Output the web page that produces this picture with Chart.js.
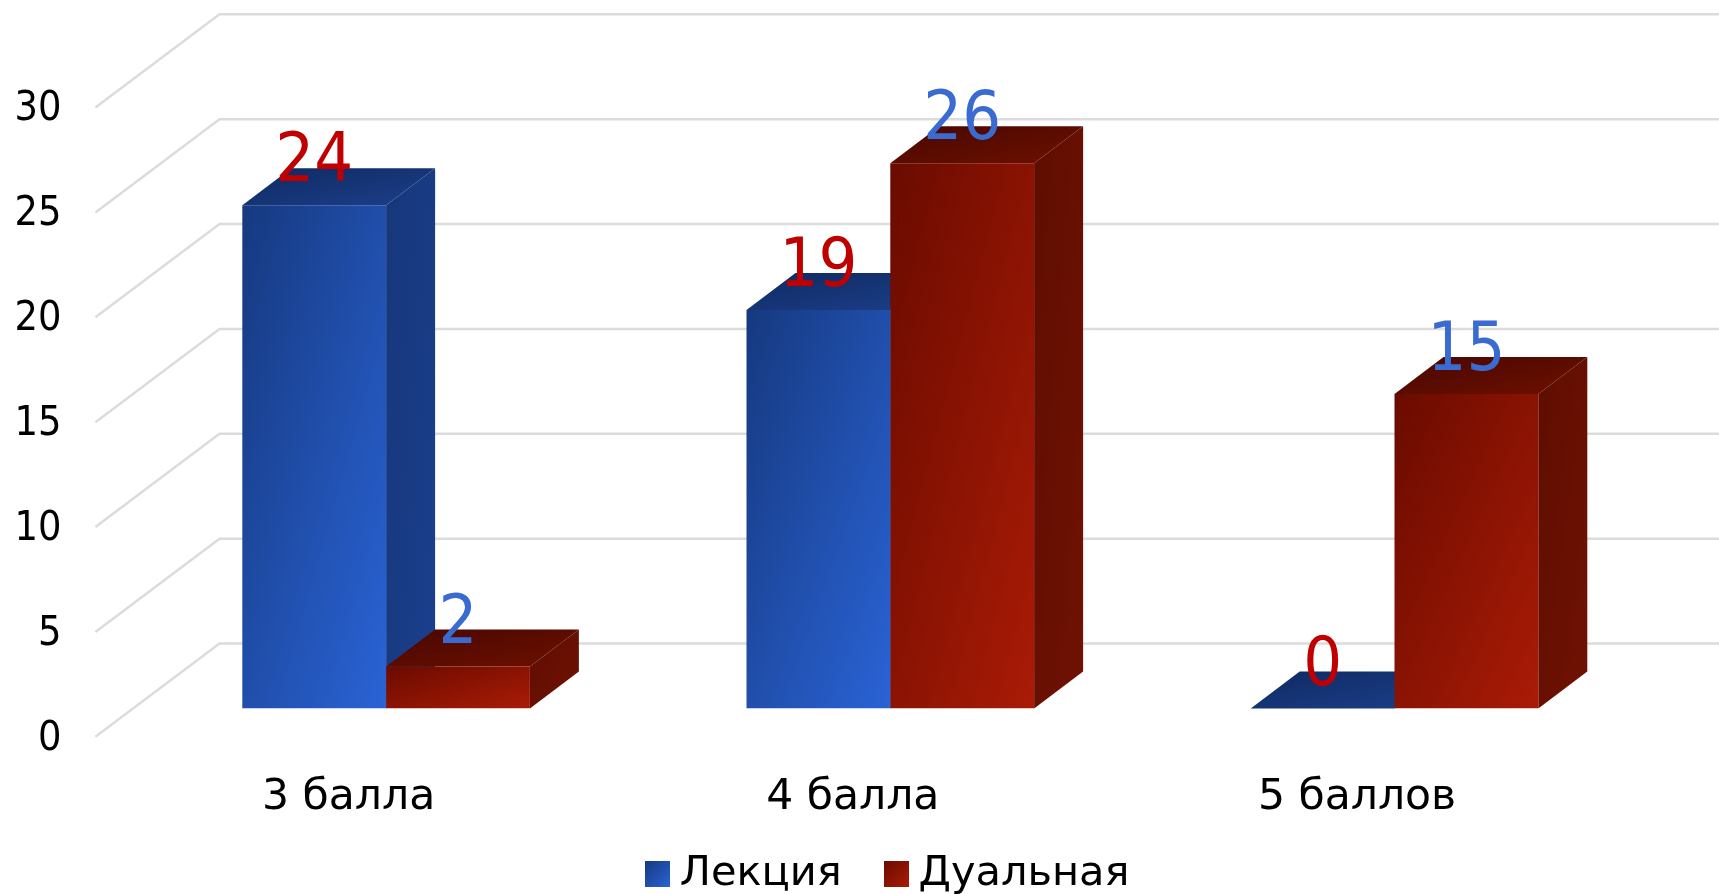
<!DOCTYPE html>
<html>
<head>
<meta charset="utf-8">
<title>Chart</title>
<script src="https://cdn.jsdelivr.net/npm/chart.js@4/dist/chart.umd.min.js"></script>
<style>
  html, body { margin: 0; padding: 0; background: #fff; overflow: hidden; }
  canvas { display: block; }
</style>
</head>
<body>
<canvas id="barChart1" width="1719" height="894"></canvas>
<script>
'use strict'

const categories = ['3 балла', '4 балла', '5 баллов'];
const lectureValues = [24, 19, 0];
const dualValues = [2, 26, 15];
const seriesNames = ['Лекция', 'Дуальная'];
const valueTicks = [0, 5, 10, 15, 20, 25, 30];

const FONT = '"DejaVu Sans", sans-serif';
const DIGIT_FONT = '"DejaVu Sans Condensed", "DejaVu Sans", sans-serif';

// 3d look, offsets from the front plane of the bars
const depthX = 49, depthY = 37;
const wallX = 219.5, wallDy = -65;
const floorX = 95.4, floorDy = 28.3;

const looks = [
  { front: ['#16397f', '#2a63d6'], side: ['#17377a', '#1a3f8e'], top: ['#0f2a62', '#1c3f8a'], label: '#c00000' },
  { front: ['#6a0b00', '#aa1b06'], side: ['#5e0d00', '#701204'], top: ['#480700', '#6e1000'], label: '#3a6bd0' }
];

function scaledGradient(ctx, l, t, w, h, colors) {
  // iso lines run along the other diagonal of the box
  const k = (2 * w * h) / (w * w + h * h);
  const g = ctx.createLinearGradient(l, t, l + h * k, t + w * k);
  g.addColorStop(0, colors[0]);
  g.addColorStop(1, colors[1]);
  return g;
}

function poly(ctx, pts, fill) {
  ctx.fillStyle = fill;
  ctx.beginPath();
  pts.forEach((p, i) => i ? ctx.lineTo(p[0], p[1]) : ctx.moveTo(p[0], p[1]));
  ctx.closePath();
  ctx.fill();
}

function swatch(colors) {
  const c = document.createElement('canvas');
  c.width = 25;
  c.height = 26;
  const x = c.getContext('2d');
  x.fillStyle = scaledGradient(x, 0, 0, 25, 26, colors);
  x.fillRect(0, 0, 25, 26);
  return c;
}

const box3d = {
  id: 'box3d',
  afterLayout(chart) {
    // legend sits on its own spot, left of the centre the library would pick
    const lg = chart.legend;
    const w = lg.right - lg.left;
    lg.left = 656 - lg.options.labels.padding;
    lg.right = lg.left + w;
    lg.top = 800;
    // tick labels get clipped to the scale box otherwise
    chart.scales.x.bottom = chart.height;
  },
  beforeDatasetsDraw(chart) {
    const ctx = chart.ctx;
    const y = chart.scales.y;
    ctx.save();
    ctx.strokeStyle = '#dcdcdc';
    ctx.lineWidth = 2.5;
    valueTicks.forEach(v => {
      const p = y.getPixelForValue(v);
      ctx.beginPath();
      ctx.moveTo(floorX, p + floorDy);
      ctx.lineTo(wallX, p + wallDy);
      ctx.lineTo(chart.width, p + wallDy);
      ctx.stroke();
    });
    chart.data.datasets.forEach((ds, d) => {
      const look = looks[d];
      chart.getDatasetMeta(d).data.forEach(bar => {
        const l = bar.x - bar.width / 2, r = bar.x + bar.width / 2;
        const t = bar.y, b = bar.base;
        if (b - t > 0) {
          poly(ctx, [[r, t], [r + depthX, t - depthY], [r + depthX, b - depthY], [r, b]],
            scaledGradient(ctx, r, t - depthY, depthX, b - t + depthY, look.side));
        }
        poly(ctx, [[l, t], [l + depthX, t - depthY], [r + depthX, t - depthY], [r, t]],
          scaledGradient(ctx, l, t - depthY, r + depthX - l, depthY, look.top));
        bar.options = Object.assign({}, bar.options, {
          backgroundColor: b - t > 0 ? scaledGradient(ctx, l, t, r - l, b - t, look.front) : 'rgba(0,0,0,0)'
        });
      });
    });
    ctx.restore();
  },
  afterDatasetsDraw(chart) {
    const ctx = chart.ctx;
    ctx.save();
    ctx.font = '68px ' + DIGIT_FONT;
    ctx.textAlign = 'center';
    ctx.textBaseline = 'alphabetic';
    chart.data.datasets.forEach((ds, d) => {
      ctx.fillStyle = looks[d].label;
      chart.getDatasetMeta(d).data.forEach((bar, i) => {
        ctx.fillText(String(ds.data[i]), bar.x, bar.y - 24);
      });
    });
    ctx.restore();
  }
};

new Chart(document.getElementById('barChart1'), {
  type: 'bar',
  data: {
    labels: categories,
    datasets: [
      { label: seriesNames[0], data: lectureValues, backgroundColor: looks[0].front[1] },
      { label: seriesNames[1], data: dualValues, backgroundColor: looks[1].front[1] }
    ]
  },
  plugins: [box3d],
  options: {
    responsive: false,
    animation: false,
    layout: { padding: { top: 79.3, right: 72.4, left: 0, bottom: 0 } },
    datasets: { bar: { barPercentage: 1, categoryPercentage: 0.5704, borderWidth: 0 } },
    scales: {
      x: {
        grid: { display: false, drawTicks: false },
        border: { display: false },
        afterFit(s) { s.height = 81; },
        ticks: {
          color: '#000',
          font: { family: FONT, size: 42.5 },
          labelOffset: -37.5,
          padding: 64,
          autoSkip: false,
          maxRotation: 0
        }
      },
      y: {
        min: 0,
        max: 30,
        grid: { display: false, drawTicks: false },
        border: { display: false },
        // tick padding would otherwise push the chart area down
        afterFit(s) { s.width = 134; s.paddingTop = 0; s.paddingBottom = 0; },
        afterBuildTicks(s) { s.ticks = valueTicks.map(v => ({ value: v })); },
        ticks: {
          color: '#000',
          font: { family: DIGIT_FONT, size: 41 },
          labelOffset: 30.5,
          padding: 72.5
        }
      }
    },
    plugins: {
      tooltip: { enabled: false },
      legend: {
        position: 'bottom',
        align: 'start',
        labels: {
          usePointStyle: true,
          pointStyleWidth: 3,
          padding: 53,
          color: '#000',
          font: { family: FONT, size: 41.5 },
          generateLabels() {
            return seriesNames.map((name, i) => ({
              text: name,
              datasetIndex: i,
              pointStyle: swatch(looks[i].front),
              fillStyle: looks[i].front[1],
              fontColor: '#000',
              lineWidth: 0,
              hidden: false
            }));
          }
        }
      }
    }
  }
});
</script>
</body>
</html>
